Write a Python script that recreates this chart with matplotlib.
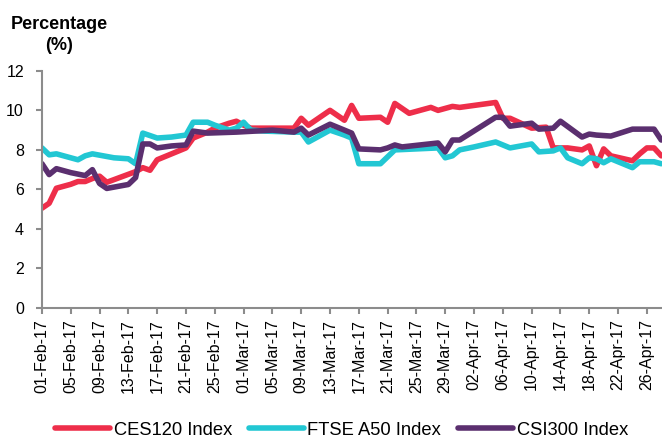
import matplotlib
matplotlib.use("Agg")
import matplotlib.pyplot as plt
import matplotlib.dates as mdates
import pandas as pd

plt.rcParams["font.family"] = ["Liberation Sans", "DejaVu Sans"]

# values (vertices of each line)
ces_dates = ["2017-02-01", "2017-02-02", "2017-02-03", "2017-02-05", "2017-02-06", "2017-02-07",
             "2017-02-08", "2017-02-09", "2017-02-10", "2017-02-14", "2017-02-15", "2017-02-16",
             "2017-02-17", "2017-02-19", "2017-02-21", "2017-02-22", "2017-02-24", "2017-02-25",
             "2017-02-27", "2017-02-28", "2017-03-01", "2017-03-02", "2017-03-05", "2017-03-08",
             "2017-03-09", "2017-03-10", "2017-03-13", "2017-03-15", "2017-03-16", "2017-03-17",
             "2017-03-20", "2017-03-21", "2017-03-22", "2017-03-24", "2017-03-27", "2017-03-28",
             "2017-03-30", "2017-03-31", "2017-04-05", "2017-04-06", "2017-04-07", "2017-04-10",
             "2017-04-12", "2017-04-13", "2017-04-15", "2017-04-17", "2017-04-18", "2017-04-19",
             "2017-04-20", "2017-04-21", "2017-04-24", "2017-04-25", "2017-04-26", "2017-04-27",
             "2017-04-28"]
ces_values = [5.05, 5.3, 6.06, 6.26, 6.4, 6.4,
              6.55, 6.67, 6.36, 6.9, 7.1, 6.97,
              7.5, 7.8, 8.1, 8.6, 8.9, 9.1,
              9.35, 9.45, 9.25, 9.1, 9.1, 9.1,
              9.6, 9.25, 10.0, 9.5, 10.25, 9.6,
              9.65, 9.4, 10.35, 9.85, 10.15, 10.0,
              10.2, 10.15, 10.4, 9.6, 9.6, 9.1,
              9.15, 8.1, 8.1, 8.0, 8.2, 7.2,
              8.05, 7.7, 7.45, 7.8, 8.1, 8.1,
              7.7]

ftse_dates = ["2017-02-01", "2017-02-02", "2017-02-03", "2017-02-05", "2017-02-06", "2017-02-07",
              "2017-02-08", "2017-02-11", "2017-02-13", "2017-02-14", "2017-02-15", "2017-02-17",
              "2017-02-19", "2017-02-21", "2017-02-22", "2017-02-24", "2017-02-25", "2017-02-27",
              "2017-02-28", "2017-03-01", "2017-03-02", "2017-03-04", "2017-03-08", "2017-03-09",
              "2017-03-10", "2017-03-13", "2017-03-15", "2017-03-16", "2017-03-17", "2017-03-20",
              "2017-03-22", "2017-03-25", "2017-03-28", "2017-03-29", "2017-03-30", "2017-03-31",
              "2017-04-02", "2017-04-05", "2017-04-07", "2017-04-10", "2017-04-11", "2017-04-13",
              "2017-04-14", "2017-04-15", "2017-04-17", "2017-04-18", "2017-04-19", "2017-04-20",
              "2017-04-21", "2017-04-24", "2017-04-25", "2017-04-27", "2017-04-28"]
ftse_values = [8.1, 7.75, 7.8, 7.6, 7.5, 7.7,
               7.8, 7.6, 7.55, 7.3, 8.85, 8.6,
               8.65, 8.75, 9.4, 9.4, 9.25, 9.0,
               9.1, 9.4, 9.0, 8.95, 8.9, 8.9,
               8.4, 9.0, 8.75, 8.6, 7.3, 7.3,
               8.0, 8.05, 8.1, 7.6, 7.7, 8.0,
               8.15, 8.4, 8.1, 8.3, 7.9, 7.95,
               8.1, 7.6, 7.3, 7.6, 7.55, 7.35,
               7.55, 7.1, 7.4, 7.4, 7.3]

csi_dates = ["2017-02-01", "2017-02-02", "2017-02-03", "2017-02-05", "2017-02-07", "2017-02-08",
             "2017-02-09", "2017-02-10", "2017-02-13", "2017-02-14", "2017-02-15", "2017-02-16",
             "2017-02-17", "2017-02-19", "2017-02-21", "2017-02-22", "2017-02-24", "2017-02-28",
             "2017-03-05", "2017-03-08", "2017-03-09", "2017-03-10", "2017-03-13", "2017-03-15",
             "2017-03-16", "2017-03-17", "2017-03-20", "2017-03-21", "2017-03-22", "2017-03-23",
             "2017-03-28", "2017-03-29", "2017-03-30", "2017-03-31", "2017-04-05", "2017-04-06",
             "2017-04-07", "2017-04-10", "2017-04-11", "2017-04-13", "2017-04-14", "2017-04-17",
             "2017-04-18", "2017-04-19", "2017-04-21", "2017-04-24", "2017-04-27", "2017-04-28"]
csi_values = [7.3, 6.75, 7.05, 6.85, 6.7, 7.0,
              6.3, 6.05, 6.25, 6.6, 8.3, 8.3,
              8.1, 8.2, 8.25, 8.95, 8.85, 8.9,
              9.0, 8.9, 9.1, 8.75, 9.3, 9.0,
              8.85, 8.05, 8.0, 8.1, 8.25, 8.15,
              8.35, 7.9, 8.5, 8.5, 9.65, 9.65,
              9.2, 9.35, 9.05, 9.1, 9.45, 8.65,
              8.8, 8.75, 8.7, 9.05, 9.05, 8.5]

series = [
    ("CES120 Index", ces_dates, ces_values, "#EE2E4A"),
    ("FTSE A50 Index", ftse_dates, ftse_values, "#22C7D3"),
    ("CSI300 Index", csi_dates, csi_values, "#5B2F6F"),
]

fig = plt.figure(figsize=(6.62, 4.40), dpi=100)
ax = fig.add_axes([0.0634, 0.30, 0.9366, 0.539])

for name, d, v, c in series:
    ax.plot(pd.to_datetime(d), v, color=c, lw=4, label=name,
            solid_joinstyle="round", solid_capstyle="round")

start = pd.Timestamp("2017-02-01")
ax.set_xlim(start, start + pd.Timedelta(days=86.1))
ax.set_ylim(0, 12)
ax.set_yticks(range(0, 13, 2))
ax.set_xticks(pd.date_range(start, periods=22, freq="4D"))
ax.xaxis.set_major_formatter(mdates.DateFormatter("%d-%b-%y"))

grey = "#8C8C8C"
for s in ["top", "right"]:
    ax.spines[s].set_visible(False)
for s in ["left", "bottom"]:
    ax.spines[s].set_color(grey)
    ax.spines[s].set_linewidth(1.5)
ax.tick_params(axis="both", colors=grey, width=1.5, length=4, labelcolor="black",
               labelsize=11.5)
ax.tick_params(axis="y", pad=9)
ax.tick_params(axis="x", pad=4)
plt.setp(ax.get_xticklabels(), rotation=90)

fig.text(0.089, 0.963, "Percentage\n(%)", ha="center", va="top", fontsize=13,
         fontweight="bold", linespacing=1.25)

fig.legend(loc="lower center", bbox_to_anchor=(0.516, -0.035), ncol=3, frameon=False,
           fontsize=13.2, handlelength=3.0, columnspacing=0.9, handletextpad=0.2)

fig.savefig("out.png", dpi=100)
